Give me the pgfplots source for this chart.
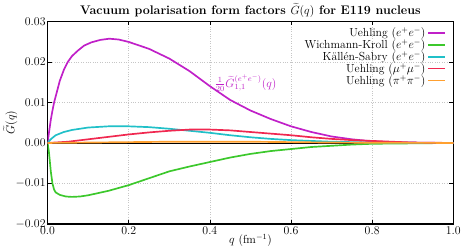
\documentclass[border=0pt]{standalone}
\usepackage{pgfplots}
\pgfplotsset{compat=1.18}
\definecolor{cmag}{HTML}{C020C8}
\definecolor{cgre}{HTML}{3CC82C}
\definecolor{ccya}{HTML}{20C0C8}
\definecolor{cred}{HTML}{F02850}
\definecolor{cora}{HTML}{FFA030}
\newcommand{\myfs}{\fontsize{11.8}{13.5}\selectfont}
\begin{document}
\begin{tikzpicture}
\begin{axis}[
  scale only axis, width=410pt, height=205pt,
  xmin=0, xmax=1, ymin=-0.02, ymax=0.03,
  xtick={0,0.2,...,1.0}, ytick={-0.02,-0.01,0,0.01,0.02,0.03},
  scaled y ticks=false,
  xticklabel style={/pgf/number format/fixed, /pgf/number format/fixed zerofill, /pgf/number format/precision=1, yshift=1pt},
  yticklabel style={/pgf/number format/fixed, /pgf/number format/fixed zerofill, /pgf/number format/precision=2, xshift=1.5pt},
  tick label style={font=\myfs},
  tick align=inside, tick style={black, line width=0.6pt},
  major tick length=4pt,
  axis line style={line width=1.2pt},
  grid=major, grid style={gray!45, dotted, line width=0.5pt},
  title={\bfseries Vacuum polarisation form factors $\widetilde{G}(q)$ for E119 nucleus},
  title style={font=\fontsize{12.6}{14}\selectfont, yshift=-5.5pt},
  xlabel={$q$ (fm$^{-1}$)}, ylabel={$\widetilde{G}(q)$},
  label style={font=\myfs},
  xlabel style={yshift=7pt},
  ylabel style={at={(axis description cs:-0.092,0.5)}, anchor=center},
  legend plot pos=right,
  legend cell align=right,
  legend style={draw=none, fill=none, font=\myfs, at={(rel axis cs:0.985,0.985)}, anchor=north east,
    row sep=-2.6pt, inner sep=1pt},
]
\draw[black, line width=0.8pt] (axis cs:0,0) -- (axis cs:1,0);
\addplot[cmag, line width=1.7pt] coordinates {
(0,0) (0.004,0.003) (0.008,0.0058) (0.012,0.0080) (0.016,0.0100) (0.02,0.0115)
(0.03,0.0153) (0.04,0.0180) (0.05,0.0200) (0.06,0.0214) (0.075,0.0228) (0.09,0.0240)
(0.108,0.0248) (0.13,0.0254) (0.152,0.0257) (0.175,0.0255) (0.2,0.0249) (0.25,0.0232)
(0.3,0.0208) (0.35,0.0177) (0.40,0.0140) (0.45,0.0106) (0.50,0.0080) (0.55,0.0059)
(0.60,0.0041) (0.65,0.0027) (0.70,0.0016) (0.75,0.0009) (0.80,0.0004) (0.85,0.0002)
(0.9,0.0001) (0.95,0.00003) (1.0,0)};
\addlegendentry{Uehling $(e^+e^-)$}
\addplot[cgre, line width=1.7pt] coordinates {
(0,0) (0.003,-0.002) (0.005,-0.0040) (0.008,-0.0071) (0.012,-0.0100) (0.016,-0.0115)
(0.02,-0.0122) (0.03,-0.0128) (0.045,-0.0132) (0.06,-0.0133) (0.08,-0.0132) (0.10,-0.0129)
(0.15,-0.0118) (0.2,-0.0104) (0.25,-0.0087) (0.3,-0.0070) (0.35,-0.0058) (0.4,-0.0047)
(0.45,-0.0036) (0.5,-0.0027) (0.55,-0.0020) (0.6,-0.0015) (0.65,-0.0010) (0.7,-0.0007)
(0.75,-0.0004) (0.8,-0.0002) (0.9,-0.0001) (1.0,0)};
\addlegendentry{Wichmann-Kroll $(e^+e^-)$}
\addplot[ccya, line width=1.7pt] coordinates {
(0,0) (0.005,0.0006) (0.01,0.0011) (0.02,0.0019) (0.04,0.0027) (0.06,0.0032)
(0.08,0.0035) (0.1,0.0038) (0.15,0.0041) (0.2,0.0041) (0.25,0.0039) (0.3,0.0035)
(0.35,0.0030) (0.4,0.0025) (0.45,0.0019) (0.5,0.0014) (0.55,0.0010) (0.6,0.0007)
(0.7,0.0003) (0.8,0.0001) (0.9,0.00003) (1.0,0)};
\addlegendentry{K\"all\'en-Sabry $(e^+e^-)$}
\addplot[cred, line width=1.7pt] coordinates {
(0,0) (0.05,0.0003) (0.1,0.0009) (0.15,0.0015) (0.2,0.0021) (0.25,0.0026) (0.3,0.0030)
(0.35,0.0033) (0.4,0.0033) (0.45,0.0031) (0.5,0.0027) (0.55,0.0023) (0.6,0.0019)
(0.65,0.0014) (0.7,0.0010) (0.75,0.0007) (0.8,0.0005) (0.85,0.0003) (0.9,0.0001) (1.0,0)};
\addlegendentry{Uehling $(\mu^+\mu^-)$}
\addplot[cora, line width=1.7pt] coordinates {
(0,0) (0.1,0.0001) (0.2,0.0002) (0.3,0.0003) (0.4,0.0003) (0.5,0.0003) (0.6,0.0002)
(0.7,0.0001) (0.8,0.00005) (1.0,0)};
\addlegendentry{Uehling $(\pi^+\pi^-)$}
\node[cmag, anchor=west, font=\myfs, inner sep=1pt] at (axis cs:0.409,0.0148) {$\frac{1}{20}\widetilde{G}^{(e^+e^-)}_{1,1}(q)$};
\end{axis}
\end{tikzpicture}
\end{document}
